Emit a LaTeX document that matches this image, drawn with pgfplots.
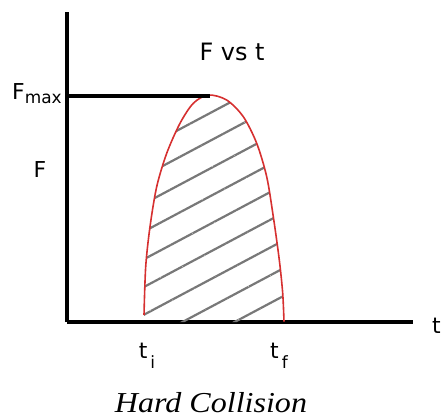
\documentclass[border=0pt]{standalone}
\usepackage{pgfplots}
\pgfplotsset{compat=1.18}
\usepackage{fontspec}
\setmainfont{DejaVu Sans}
\newfontfamily\capfont{Liberation Serif}
\usetikzlibrary{patterns.meta}
\definecolor{curvered}{RGB}{214,48,48}
\definecolor{hatchgray}{RGB}{120,120,120}
\begin{document}
\begin{tikzpicture}
\begin{axis}[
  x=1bp, y=1bp,
  xmin=0, xmax=346, ymin=0, ymax=310,
  axis lines=left,
  axis line style={line width=3.2bp, -},
  xtick=\empty, ytick=\empty,
  clip=false,
]
\addplot[draw=none, smooth, pattern={Lines[angle=28,distance=24.5bp,line width=2.2bp]}, pattern color=hatchgray]
  coordinates {(77,7) (78.7,55.3) (83,95.3) (89.7,135.3) (99.7,168.7) (113,198.7) (126.3,218.7) (141.3,227)
               (159.7,222) (176.3,205.3) (189.7,178.7) (199.7,145.3) (206.3,105.3) (212.3,62) (215.7,28.7) (217,0.3)} \closedcycle;
\addplot[draw=curvered, line width=1.6bp, smooth]
  coordinates {(77,7) (78.7,55.3) (83,95.3) (89.7,135.3) (99.7,168.7) (113,198.7) (126.3,218.7) (141.3,227)
               (159.7,222) (176.3,205.3) (189.7,178.7) (199.7,145.3) (206.3,105.3) (212.3,62) (215.7,28.7) (217,0.3)};
\addplot[black, line width=3.2bp] coordinates {(0,226) (143,226)};
\node[font=\fontsize{24}{26}\selectfont] at (axis cs:165,270) {F vs t};
\node[font=\fontsize{22}{24}\selectfont] at (axis cs:-27,152) {F};
\node[anchor=base west, inner sep=0pt, font=\fontsize{22}{24}\selectfont] at (axis cs:-55,223) {F\raisebox{-4bp}{\fontsize{17}{18}\selectfont max}};
\node[anchor=base west, inner sep=0pt, font=\fontsize{22}{24}\selectfont] at (axis cs:365,-11) {t};
\node[anchor=base, inner sep=0pt, font=\fontsize{22}{24}\selectfont] at (axis cs:80,-36) {t\hspace{3bp}\raisebox{-10bp}{\fontsize{17}{18}\selectfont i}};
\node[anchor=base, inner sep=0pt, font=\fontsize{22}{24}\selectfont] at (axis cs:212,-36) {t\hspace{3bp}\raisebox{-10bp}{\fontsize{17}{18}\selectfont f}};
\node[anchor=base, inner sep=0pt, font=\capfont\itshape\fontsize{29}{30}\selectfont] at (axis cs:144,-90) {\scalebox{1.11}[1]{Hard Collision}};
\path (axis cs:-67,-97) rectangle (axis cs:374,322);
\end{axis}
\end{tikzpicture}
\end{document}
